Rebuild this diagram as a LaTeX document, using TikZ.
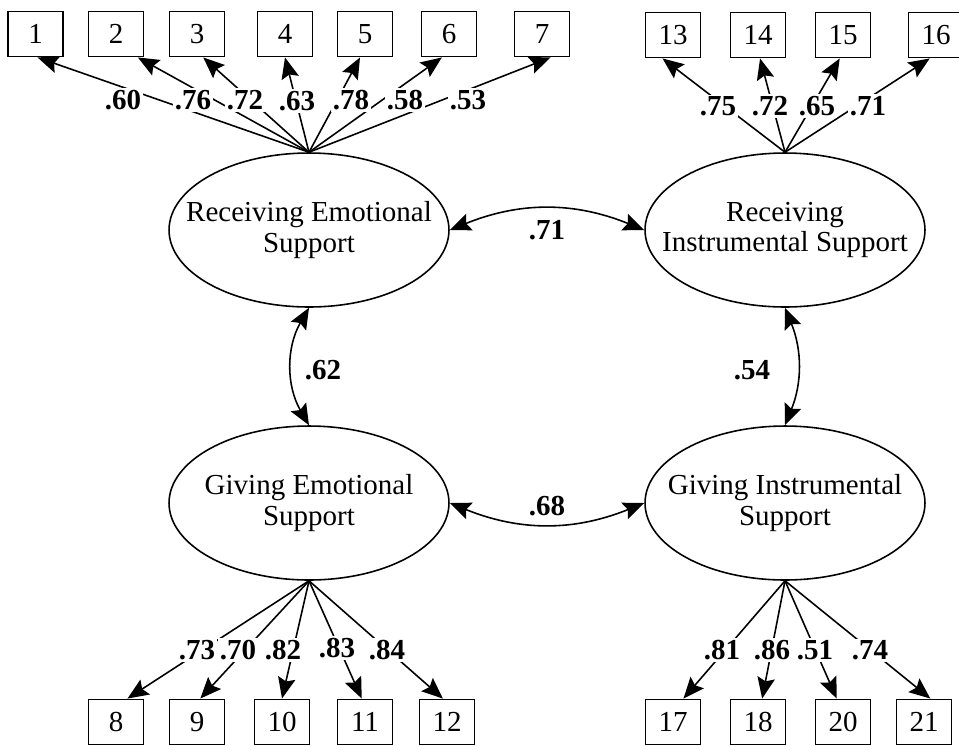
\documentclass[tikz,border=0pt]{standalone}
\usepackage{fontspec}
\setmainfont{Liberation Serif}
\usetikzlibrary{shapes.geometric, arrows.meta}

\begin{document}
\begin{tikzpicture}[
    x=0.02cm, y=-0.02cm,
    font=\fontsize{16.5}{17.5}\selectfont,
    >={Stealth[length=12pt, width=10pt, inset=2pt]},
    item/.style={
        draw, line width=1.1pt, minimum width=1.1cm, minimum height=0.9cm, inner sep=0pt, fill=white
    },
    latent/.style={
        draw, ellipse, line width=0.9pt, minimum width=5.6cm, minimum height=3.08cm, align=center,
        inner xsep=-0.5cm, inner ysep=0pt
    },
    load/.style={->, line width=0.9pt},
    cov/.style={<->, line width=0.9pt},
    coef/.style={font=\fontsize{16.5}{17.5}\selectfont\bfseries, fill=white, inner sep=1pt}
]

\useasboundingbox (0,0) rectangle (959,745);

% LATENT FACTORS
\node[latent] (recemo) at (309,230) {Receiving Emotional\\Support};
\node[latent] (recins) at (785,230) {Receiving\\Instrumental Support};
\node[latent] (givemo) at (309,503) {Giving Emotional\\Support};
\node[latent] (givins) at (785,503) {Giving Instrumental\\Support};

% INDICATORS (top row)
\node[item] (i1) at (35.5,34) {1};
\node[item] (i2) at (116,34) {2};
\node[item] (i3) at (197,34) {3};
\node[item] (i4) at (285,34) {4};
\node[item] (i5) at (365,34) {5};
\node[item] (i6) at (449,34) {6};
\node[item] (i7) at (542,34) {7};
\node[item] (i13) at (673,35) {13};
\node[item] (i14) at (758,35) {14};
\node[item] (i15) at (843,35) {15};
\node[item] (i16) at (936,35) {16};

% INDICATORS (bottom row)
\node[item] (i8) at (116,722) {8};
\node[item] (i9) at (197,722) {9};
\node[item] (i10) at (282,722) {10};
\node[item] (i11) at (365,722) {11};
\node[item] (i12) at (447,722) {12};
\node[item] (i17) at (673,722) {17};
\node[item] (i18) at (758,722) {18};
\node[item] (i20) at (843,722) {20};
\node[item] (i21) at (924,722) {21};

% LOADINGS
\draw[load] (recemo.north) -- (i1.-85);
\draw[load] (recemo.north) -- (i2.-47);
\draw[load] (recemo.north) -- (i3.-75);
\draw[load] (recemo.north) -- (i4.-90);
\draw[load] (recemo.north) -- (i5.-102);
\draw[load] (recemo.north) -- (i6.-107);
\draw[load] (recemo.north) -- (i7.-70);

\draw[load] (recins.north) -- (i13.-114);
\draw[load] (recins.north) -- (i14.-85);
\draw[load] (recins.north) -- (i15.-98);
\draw[load] (recins.north) -- (i16.-105);

\draw[load] (givemo.south) -- (i8.64);
\draw[load] (givemo.south) -- (i9.82);
\draw[load] (givemo.south) -- (i10.90);
\draw[load] (givemo.south) -- (i11.98);
\draw[load] (givemo.south) -- (i12.100);

\draw[load] (givins.south) -- (i17.66);
\draw[load] (givins.south) -- (i18.80);
\draw[load] (givins.south) -- (i20.105);
\draw[load] (givins.south) -- (i21.75);

% loading values (on top of the lines)
\node[coef] (l1) at (123,100) {.60};
\node[coef] (l2) at (193,100) {.76};
\node[coef] (l3) at (245,100) {.72};
\node[coef] (l4) at (297,101) {.63};
\node[coef] (l5) at (351,100) {.78};
\node[coef] (l6) at (405,100) {.58};
\node[coef] (l7) at (468,100) {.53};

\node[coef] (l13) at (718,106) {.75};
\node[coef] (l14) at (770,106) {.72};
\node[coef] (l15) at (817,106) {.65};
\node[coef] (l16) at (868,106) {.71};

\node[coef] (l8) at (197,650) {.73};
\node[coef] (l9) at (238,650) {.70};
\node[coef] (l10) at (283,650) {.82};
\node[coef] (l11) at (337,648) {.83};
\node[coef] (l12) at (387,650) {.84};

\node[coef] (l17) at (722,650) {.81};
\node[coef] (l18) at (772,650) {.86};
\node[coef] (l20) at (815,650) {.51};
\node[coef] (l21) at (870,650) {.74};

% COVARIANCES
\draw[cov] (recemo.east) to[bend left=22] (recins.west);
\node[coef] (c1) at (547,230) {.71};

\draw[cov] (givemo.east) to[bend right=22] (givins.west);
\node[coef] (c2) at (547,506) {.68};

\draw[cov] (recemo.south) to[bend right=30] (givemo.north);
\node[coef] (c3) at (323,370) {.62};

\draw[cov] (recins.south) to[bend left=22] (givins.north);
\node[coef] (c4) at (752,370) {.54};

\end{tikzpicture}
\end{document}
